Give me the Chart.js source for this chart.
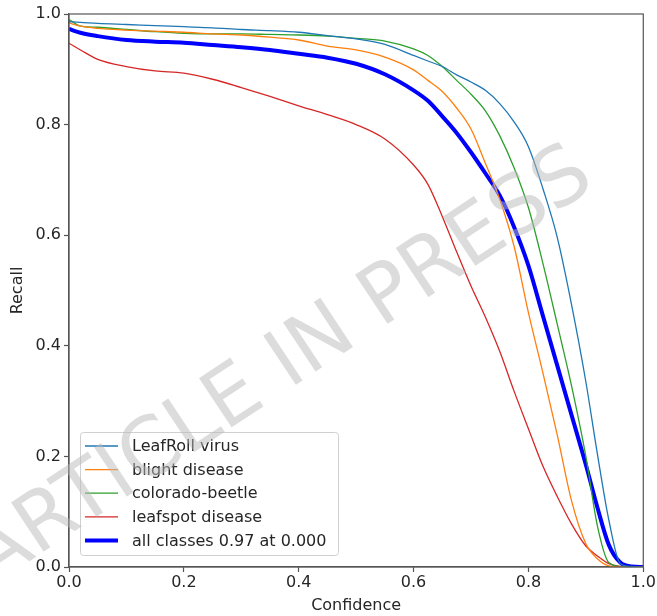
<!DOCTYPE html>
<html>
<head>
<meta charset="utf-8">
<script src="https://cdn.jsdelivr.net/npm/chart.js@4.4.1/dist/chart.umd.min.js"></script>
<style>
  html, body { margin: 0; padding: 0; background: #fff; }
  #wrap { width: 657px; height: 616px; }
</style>
</head>
<body>
<div id="wrap"><canvas id="chart1" width="657" height="616"></canvas></div>
<script>
// confidence grid shared by all curves
const conf = [0, 0.02, 0.05, 0.1, 0.15, 0.2, 0.25, 0.3, 0.35, 0.4, 0.45, 0.5, 0.55, 0.6, 0.625, 0.65, 0.675, 0.7, 0.725, 0.75, 0.775, 0.8, 0.825, 0.85, 0.875, 0.9, 0.92, 0.94, 0.96, 0.98, 1.0];

const leafRoll = [0.986, 0.985, 0.983, 0.981, 0.979, 0.977, 0.975, 0.972, 0.970, 0.967, 0.961, 0.955, 0.945, 0.925, 0.915, 0.905, 0.890, 0.877, 0.862, 0.838, 0.805, 0.760, 0.685, 0.597, 0.475, 0.335, 0.205, 0.085, 0.006, 0.001, 0];
const blight = [0.984, 0.978, 0.974, 0.971, 0.969, 0.967, 0.964, 0.962, 0.958, 0.953, 0.942, 0.935, 0.922, 0.899, 0.880, 0.860, 0.830, 0.792, 0.730, 0.665, 0.580, 0.460, 0.352, 0.240, 0.120, 0.042, 0.015, 0.002, 0, 0, 0];
const colorado = [0.990, 0.978, 0.976, 0.972, 0.968, 0.965, 0.964, 0.964, 0.963, 0.962, 0.960, 0.956, 0.951, 0.937, 0.925, 0.905, 0.880, 0.855, 0.825, 0.780, 0.722, 0.650, 0.550, 0.440, 0.328, 0.200, 0.075, 0.008, 0.001, 0, 0];
const leafspot = [0.947, 0.935, 0.918, 0.905, 0.897, 0.893, 0.882, 0.867, 0.851, 0.834, 0.818, 0.800, 0.774, 0.727, 0.692, 0.634, 0.570, 0.508, 0.452, 0.390, 0.318, 0.250, 0.183, 0.128, 0.078, 0.038, 0.020, 0.006, 0.001, 0, 0];
const allClasses = [0.973, 0.966, 0.960, 0.953, 0.950, 0.948, 0.944, 0.940, 0.935, 0.928, 0.921, 0.910, 0.891, 0.862, 0.843, 0.815, 0.785, 0.750, 0.712, 0.672, 0.615, 0.545, 0.455, 0.365, 0.275, 0.185, 0.108, 0.040, 0.008, 0.001, 0];

const seriesNames = ['LeafRoll virus', 'blight disease', 'colorado-beetle', 'leafspot disease', 'all classes 0.97 at 0.000'];
const tickValues = [0, 0.2, 0.4, 0.6, 0.8, 1.0];

const pts = ys => conf.map((c, i) => ({ x: c, y: ys[i] }));

const font = "'DejaVu Sans', sans-serif";
const ink = '#262626';

// matplotlib-style box around the plot + inner legend + watermark
const decor = {
    id: 'decor',
    afterDatasetsDraw(chart) {
        const { ctx, chartArea: a } = chart;
        ctx.save();
        ctx.strokeStyle = '#555';
        ctx.lineWidth = 1.2;
        ctx.strokeRect(a.left, a.top, a.right - a.left, a.bottom - a.top);

        // legend
        const bx = 80, by = 432, bw = 258, bh = 123;
        ctx.fillStyle = 'rgba(255,255,255,0.8)';
        ctx.strokeStyle = '#d0d0d0';
        ctx.lineWidth = 1;
        ctx.beginPath();
        ctx.roundRect(bx + 0.5, by + 0.5, bw, bh, 3);
        ctx.fill();
        ctx.stroke();
        ctx.font = '16px ' + font;
        ctx.textBaseline = 'middle';
        chart.data.datasets.forEach((ds, i) => {
            const y = by + 14 + i * 23.6;
            ctx.strokeStyle = ds.borderColor;
            ctx.lineWidth = ds.borderWidth;
            ctx.beginPath();
            ctx.moveTo(85, y);
            ctx.lineTo(118, y);
            ctx.stroke();
            ctx.fillStyle = ink;
            ctx.fillText(ds.label, 132, y + 1);
        });

        // watermark
        ctx.translate(294, 386);
        ctx.rotate(-33.5 * Math.PI / 180);
        ctx.font = '81px ' + font;
        ctx.textAlign = 'center';
        ctx.textBaseline = 'alphabetic';
        ctx.fillStyle = 'rgba(185,185,185,0.5)';
        ctx.fillText('ARTICLE IN PRESS', 0, 0);
        ctx.restore();
    }
};

const axisCommon = {
    type: 'linear',
    min: 0,
    max: 1,
    grid: { drawOnChartArea: false, drawTicks: true, tickLength: 5, color: '#555', tickWidth: 1.2 },
    border: { display: true, color: '#555', width: 1.2 },
    afterBuildTicks: s => { s.ticks = tickValues.map(v => ({ value: v })); },
};

new Chart(document.querySelector('#chart1'), {
    type: 'line',
    data: {
        datasets: [
            { label: seriesNames[0], data: pts(leafRoll), borderColor: '#1f77b4', borderWidth: 1.3 },
            { label: seriesNames[1], data: pts(blight), borderColor: '#ff7f0e', borderWidth: 1.3 },
            { label: seriesNames[2], data: pts(colorado), borderColor: '#2ca02c', borderWidth: 1.3 },
            { label: seriesNames[3], data: pts(leafspot), borderColor: '#d62728', borderWidth: 1.3 },
            { label: seriesNames[4], data: pts(allClasses), borderColor: '#0000ff', borderWidth: 4 }
        ]
    },
    options: {
        responsive: false,
        animation: false,
        elements: { point: { radius: 0 }, line: { cubicInterpolationMode: 'monotone', fill: false } },
        layout: { padding: { top: 14, right: 13, left: 0, bottom: 0 } },
        plugins: { legend: { display: false }, tooltip: { enabled: false } },
        scales: {
            x: {
                ...axisCommon,
                ticks: { color: ink, font: { family: font, size: 16 }, padding: 1, maxRotation: 0, callback: v => v.toFixed(1) },
                title: { display: true, text: 'Confidence', color: ink, font: { family: font, size: 16 }, padding: { top: 0, bottom: 1 } },
                afterFit: s => { s.height = 49; }
            },
            y: {
                ...axisCommon,
                ticks: { color: ink, font: { family: font, size: 16 }, padding: 3, callback: v => v.toFixed(1) },
                title: { display: true, text: 'Recall', color: ink, font: { family: font, size: 16 }, padding: { top: 8, bottom: 0 } },
                afterFit: s => { s.width = 69; }
            }
        }
    },
    plugins: [decor]
});
</script>
</body>
</html>
